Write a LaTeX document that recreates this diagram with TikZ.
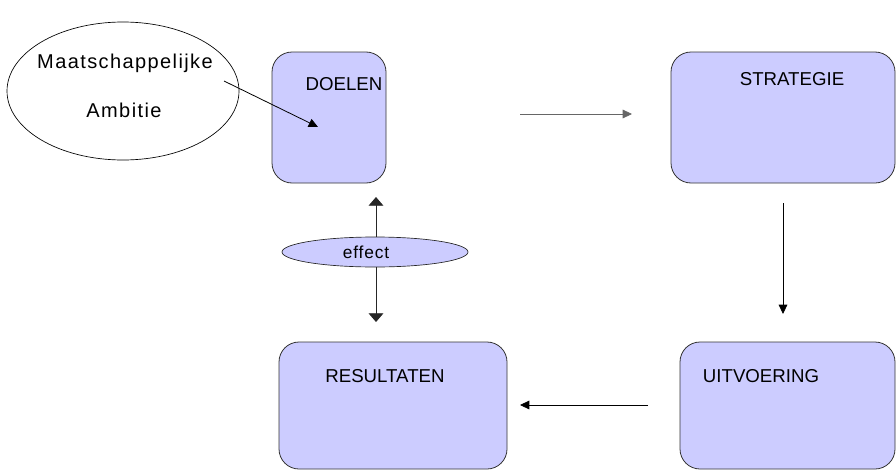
\documentclass[tikz,border=0pt]{standalone}
\usepackage{fontspec}
\setmainfont{Liberation Sans}
\newfontfamily\spacedfont{Liberation Sans}[LetterSpace=7]
\newfontfamily\effectfont{Liberation Sans}[LetterSpace=5]
\usetikzlibrary{arrows.meta,shapes.geometric}
\definecolor{boxfill}{HTML}{CCCCFF}
\begin{document}
\begin{tikzpicture}[x=0.75pt,y=-0.75pt,
  box/.style={draw=black!80, fill=boxfill, rounded corners=15pt, line width=0.6pt,
    anchor=north west, inner sep=0pt, outer sep=0pt},
  lbl/.style={font=\fontsize{14}{16}\selectfont, inner sep=0pt},
  amblbl/.style={font=\spacedfont\fontsize{15}{17}\selectfont, inner sep=0pt},
  efflbl/.style={font=\effectfont\fontsize{13}{15}\selectfont, inner sep=0pt},
  arr/.style={draw=black, line width=0.6pt, -{Triangle[length=7pt,width=6.5pt]}},
  warr/.style={draw=black!85, line width=0.6pt, -{Triangle[length=6.5pt,width=11pt]}}]
\useasboundingbox (0,0) rectangle (896,471);
% big ellipse
\node[ellipse, draw=black, line width=0.5pt, minimum width=174pt, minimum height=103.5pt, inner sep=0pt] (amb) at (123,91) {};
\node[amblbl] (amb1) at (125,63) {Maatschappelijke};
\node[amblbl] (amb2) at (124,110) {Ambitie};
% boxes
\node[box, minimum width=85.5pt, minimum height=98.25pt] (doelen) at (272,52) {};
\node[box, minimum width=168pt, minimum height=98.25pt] (strat) at (671,52) {};
\node[box, minimum width=171pt, minimum height=95.25pt] (res) at (279,342) {};
\node[box, minimum width=161.25pt, minimum height=95.25pt] (uitv) at (680,342) {};
\node[lbl, anchor=base] (tdoelen) at (344,90) {DOELEN};
\node[lbl, anchor=base] (tstrat) at (792,85) {STRATEGIE};
\node[lbl, anchor=base] (tres) at (385,382) {RESULTATEN};
\node[lbl, anchor=base] (tuitv) at (761,382) {UITVOERING};
% effect ellipse
\node[ellipse, draw=black!85, fill=boxfill, line width=0.5pt, minimum width=139.5pt, minimum height=22.5pt, inner sep=0pt] (effect) at (375,252) {};
\node[efflbl] (teffect) at (366,252) {effect};
% connector coordinates
\coordinate (a1) at (224,81);
\coordinate (a2) at (318,127);
\coordinate (h1) at (520,114);
\coordinate (h2) at (632,114);
\coordinate (v1) at (783,203);
\coordinate (v2) at (783,314);
\coordinate (b1) at (648,405);
\coordinate (b2) at (520,405);
\coordinate (eu) at (376,197);
\coordinate (ed) at (376,322);
% connectors
\draw[arr] (a1) -- (a2);
\draw[arr, draw=black!60] (h1) -- (h2);
\draw[arr] (v1) -- (v2);
\draw[arr] (b1) -- (b2);
\draw[warr] (effect.north -| eu) -- (eu);
\draw[warr] (effect.south -| ed) -- (ed);
\end{tikzpicture}
\end{document}
